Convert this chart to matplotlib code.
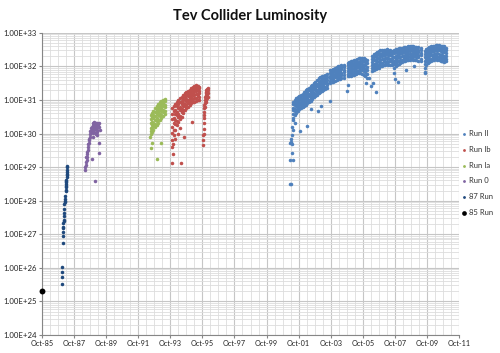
import numpy as np
import matplotlib
matplotlib.use("Agg")
import matplotlib.pyplot as plt
from matplotlib.ticker import FixedLocator, FuncFormatter, LogLocator, NullFormatter

plt.rcParams['font.family'] = ['Lato', 'DejaVu Sans']

# dates as decimal years, luminosity as log10 (cm^-2 s^-1)

# Run II: columns of readings (date, values in the dense band)
run2_dates = [2001.40, 2001.50, 2001.60, 2001.70, 2001.80, 2001.90, 2002.00, 2002.10,
              2002.20, 2002.30, 2002.40, 2002.50, 2002.60, 2002.70, 2002.80, 2002.90,
              2003.00, 2003.10, 2003.20, 2003.30, 2003.40, 2003.55,
              2003.72, 2003.82, 2003.92, 2004.02, 2004.12, 2004.22, 2004.32, 2004.42, 2004.55,
              2004.80, 2004.90, 2005.00, 2005.10, 2005.20, 2005.30, 2005.40, 2005.50,
              2005.60, 2005.70, 2005.80, 2005.90, 2006.02,
              2006.35, 2006.45, 2006.55, 2006.65, 2006.75, 2006.85, 2006.95, 2007.05,
              2007.15, 2007.25, 2007.35, 2007.45, 2007.57,
              2007.70, 2007.80, 2007.90, 2008.00, 2008.10, 2008.20, 2008.30, 2008.40,
              2008.50, 2008.60, 2008.70, 2008.80, 2008.90, 2009.00, 2009.10, 2009.20, 2009.35,
              2009.60, 2009.70, 2009.80, 2009.90, 2010.00, 2010.10, 2010.20, 2010.30,
              2010.40, 2010.50, 2010.60, 2010.70, 2010.80, 2010.92]
run2_logs = [
    [30.47, 30.57, 30.69, 30.76, 30.87, 30.95],
    [30.55, 30.66, 30.73, 30.84, 30.91, 31.00],
    [30.62, 30.70, 30.81, 30.87, 30.98, 31.05],
    [30.67, 30.77, 30.83, 30.93, 31.00, 31.10],
    [30.72, 30.79, 30.89, 30.95, 31.05, 31.12],
    [30.75, 30.84, 30.90, 31.00, 31.06, 31.15],
    [30.80, 30.87, 30.96, 31.02, 31.11, 31.18],
    [30.83, 30.92, 30.98, 31.08, 31.14, 31.24],
    [30.86, 30.93, 31.04, 31.10, 31.21, 31.29],
    [30.90, 30.99, 31.06, 31.16, 31.23, 31.33],
    [30.94, 31.01, 31.12, 31.18, 31.29, 31.37],
    [30.98, 31.07, 31.14, 31.24, 31.31, 31.41],
    [31.03, 31.10, 31.20, 31.26, 31.37, 31.46],
    [31.08, 31.16, 31.22, 31.32, 31.39, 31.50],
    [31.12, 31.19, 31.29, 31.35, 31.46, 31.55],
    [31.16, 31.25, 31.31, 31.41, 31.49, 31.60],
    [31.20, 31.27, 31.37, 31.44, 31.55, 31.64],
    [31.24, 31.33, 31.39, 31.50, 31.57, 31.68],
    [31.28, 31.35, 31.45, 31.51, 31.62, 31.70],
    [31.30, 31.39, 31.45, 31.56, 31.62, 31.72],
    [31.33, 31.40, 31.50, 31.56, 31.66, 31.74],
    [31.36, 31.44, 31.51, 31.60, 31.67, 31.76],
    [31.50, 31.57, 31.66, 31.72, 31.81, 31.88],
    [31.53, 31.62, 31.68, 31.77, 31.83, 31.90],
    [31.55, 31.63, 31.72, 31.78, 31.86, 31.92],
    [31.58, 31.67, 31.73, 31.82, 31.88, 31.96],
    [31.60, 31.68, 31.77, 31.83, 31.92, 31.98],
    [31.61, 31.71, 31.78, 31.88, 31.94, 32.01],
    [31.62, 31.70, 31.80, 31.87, 31.96, 32.02],
    [31.64, 31.74, 31.81, 31.91, 31.97, 32.04],
    [31.65, 31.73, 31.83, 31.90, 31.99, 32.05],
    [31.70, 31.78, 31.87, 31.94, 32.03, 32.10],
    [31.71, 31.81, 31.88, 31.98, 32.05, 32.12],
    [31.72, 31.80, 31.90, 31.97, 32.07, 32.15],
    [31.74, 31.84, 31.91, 32.01, 32.08, 32.16],
    [31.75, 31.83, 31.93, 32.00, 32.10, 32.18],
    [31.77, 31.87, 31.94, 32.04, 32.11, 32.20],
    [31.80, 31.87, 31.97, 32.04, 32.14, 32.22],
    [31.80, 31.90, 31.97, 32.07, 32.14, 32.24],
    [31.80, 31.88, 31.99, 32.06, 32.17, 32.25],
    [31.78, 31.89, 31.97, 32.08, 32.16, 32.25],
    [31.75, 31.85, 31.96, 32.05, 32.16, 32.25],
    [31.70, 31.83, 31.91, 32.04, 32.12, 32.23],
    [31.65, 31.77, 31.88, 31.98, 32.10, 32.20],
    [31.85, 31.95, 32.03, 32.13, 32.21, 32.30],
    [31.88, 31.99, 32.07, 32.18, 32.27, 32.37],
    [31.91, 32.00, 32.11, 32.20, 32.31, 32.40],
    [31.94, 32.05, 32.13, 32.25, 32.33, 32.44],
    [31.96, 32.05, 32.17, 32.25, 32.37, 32.45],
    [32.00, 32.10, 32.19, 32.30, 32.38, 32.48],
    [32.02, 32.11, 32.22, 32.30, 32.41, 32.49],
    [32.05, 32.15, 32.23, 32.34, 32.41, 32.50],
    [32.05, 32.13, 32.25, 32.33, 32.44, 32.50],
    [32.06, 32.16, 32.24, 32.36, 32.42, 32.51],
    [32.05, 32.13, 32.25, 32.33, 32.43, 32.50],
    [32.05, 32.15, 32.23, 32.34, 32.40, 32.49],
    [32.04, 32.12, 32.23, 32.30, 32.41, 32.47],
    [31.95, 32.07, 32.17, 32.29, 32.39, 32.50],
    [32.00, 32.10, 32.21, 32.31, 32.43, 32.52],
    [32.05, 32.15, 32.24, 32.35, 32.44, 32.53],
    [32.07, 32.16, 32.27, 32.36, 32.47, 32.55],
    [32.10, 32.20, 32.28, 32.39, 32.47, 32.55],
    [32.12, 32.20, 32.31, 32.40, 32.49, 32.56],
    [32.15, 32.24, 32.32, 32.43, 32.50, 32.57],
    [32.17, 32.24, 32.35, 32.42, 32.52, 32.58],
    [32.20, 32.28, 32.36, 32.45, 32.52, 32.58],
    [32.19, 32.29, 32.37, 32.47, 32.54, 32.60],
    [32.20, 32.27, 32.38, 32.46, 32.55, 32.60],
    [32.21, 32.30, 32.37, 32.48, 32.54, 32.61],
    [32.20, 32.28, 32.39, 32.46, 32.55, 32.60],
    [32.20, 32.30, 32.37, 32.47, 32.53, 32.59],
    [32.19, 32.27, 32.37, 32.44, 32.53, 32.58],
    [32.17, 32.27, 32.34, 32.44, 32.50, 32.57],
    [32.15, 32.23, 32.33, 32.40, 32.49, 32.55],
    [31.95, 32.07, 32.16, 32.28, 32.36, 32.45],
    [32.05, 32.15, 32.23, 32.34, 32.42, 32.52],
    [32.10, 32.18, 32.29, 32.37, 32.47, 32.55],
    [32.12, 32.22, 32.30, 32.41, 32.49, 32.58],
    [32.15, 32.23, 32.34, 32.42, 32.52, 32.60],
    [32.18, 32.27, 32.35, 32.46, 32.53, 32.61],
    [32.20, 32.28, 32.38, 32.46, 32.56, 32.62],
    [32.21, 32.31, 32.38, 32.49, 32.56, 32.63],
    [32.20, 32.29, 32.40, 32.48, 32.58, 32.64],
    [32.19, 32.29, 32.37, 32.48, 32.55, 32.63],
    [32.15, 32.25, 32.34, 32.45, 32.53, 32.62],
    [32.16, 32.24, 32.35, 32.43, 32.53, 32.61],
    [32.15, 32.25, 32.32, 32.43, 32.51, 32.60],
    [32.15, 32.22, 32.32, 32.40, 32.48, 32.55],
]
run2_out_dates = [2001.20, 2001.30, 2001.20, 2001.40, 2001.33, 2001.20, 2001.28, 2001.34,
                  2001.35, 2001.36, 2001.40, 2001.38, 2001.30, 2001.85, 2002.26, 2002.95,
                  2003.16, 2003.70, 2004.75, 2006.25, 2006.40, 2006.55, 2006.15, 2007.70,
                  2007.75, 2007.95, 2008.45, 2009.60, 2010.70, 2010.80, 2004.80, 2005.95,
                  2002.50, 2001.50, 2009.65, 2008.95]
run2_out_logs = [28.50, 28.50, 29.20, 29.20, 29.42, 29.72, 29.74, 29.70,
                 29.96, 30.20, 30.40, 30.10, 29.85, 30.09, 30.23, 30.68,
                 30.83, 30.97, 31.27, 31.42, 31.50, 31.25, 31.65, 31.80,
                 31.62, 31.55, 31.90, 31.83, 32.15, 32.12, 31.45, 31.50,
                 30.72, 30.30, 31.80, 32.00]

# Run Ib
run1b_dates = [1993.85, 1993.95, 1994.05, 1994.15, 1994.25, 1994.35, 1994.45, 1994.55,
               1994.65, 1994.75, 1994.85, 1994.95, 1995.05, 1995.15, 1995.25, 1995.35,
               1995.45, 1995.53,
               1995.78, 1995.82, 1995.86, 1995.90, 1995.95, 1996.00, 1996.05, 1996.10]
run1b_logs = [
    [29.80, 30.02, 30.19, 30.42, 30.58, 30.76],
    [29.95, 30.10, 30.31, 30.46, 30.66, 30.82],
    [30.10, 30.27, 30.39, 30.57, 30.71, 30.88],
    [30.25, 30.36, 30.54, 30.65, 30.81, 30.94],
    [30.35, 30.50, 30.59, 30.76, 30.87, 31.00],
    [30.42, 30.53, 30.70, 30.79, 30.94, 31.05],
    [30.50, 30.64, 30.73, 30.88, 30.97, 31.10],
    [30.60, 30.69, 30.82, 30.91, 31.04, 31.15],
    [30.70, 30.81, 30.89, 31.01, 31.09, 31.20],
    [30.75, 30.84, 30.96, 31.04, 31.16, 31.24],
    [30.80, 30.91, 30.99, 31.11, 31.19, 31.27],
    [30.85, 30.94, 31.06, 31.13, 31.24, 31.30],
    [30.90, 31.01, 31.09, 31.19, 31.26, 31.35],
    [30.95, 31.04, 31.15, 31.21, 31.32, 31.39],
    [30.95, 31.07, 31.15, 31.26, 31.33, 31.42],
    [30.98, 31.07, 31.19, 31.26, 31.37, 31.44],
    [31.00, 31.11, 31.19, 31.29, 31.35, 31.43],
    [31.00, 31.09, 31.20, 31.26, 31.35, 31.40],
    [29.66, 29.80, 29.95],
    [30.00, 30.15, 30.30, 30.45],
    [30.55, 30.65, 30.75, 30.85],
    [30.80, 30.90, 31.00, 31.10],
    [30.95, 31.05, 31.15, 31.25],
    [31.00, 31.10, 31.20, 31.30],
    [31.05, 31.15, 31.25, 31.33],
    [31.10, 31.20, 31.30, 31.35],
]
run1b_out_dates = [1993.90, 1993.85, 1994.40, 1994.60, 1995.10, 1994.35, 1993.88, 1993.92,
                   1994.05, 1994.20]
run1b_out_logs = [29.40, 29.12, 29.12, 29.90, 30.34, 30.16, 29.60, 29.70, 29.85, 30.00]

# Run Ia
run1a_dates = [1992.52, 1992.60, 1992.70, 1992.80, 1992.90, 1993.00, 1993.10, 1993.20,
               1993.30, 1993.40]
run1a_logs = [
    [30.00, 30.09, 30.17, 30.31, 30.44, 30.55],
    [30.05, 30.14, 30.26, 30.35, 30.49, 30.60],
    [30.12, 30.23, 30.31, 30.45, 30.55, 30.68],
    [30.20, 30.29, 30.41, 30.51, 30.65, 30.76],
    [30.26, 30.37, 30.46, 30.59, 30.69, 30.82],
    [30.32, 30.41, 30.54, 30.63, 30.77, 30.88],
    [30.40, 30.51, 30.59, 30.71, 30.81, 30.94],
    [30.46, 30.55, 30.67, 30.75, 30.88, 30.98],
    [30.52, 30.63, 30.71, 30.83, 30.91, 31.00],
    [30.58, 30.67, 30.79, 30.86, 30.96, 31.02],
]
run1a_out_dates = [1992.60, 1992.55, 1993.20, 1992.95, 1992.50]
run1a_out_logs = [29.73, 29.56, 29.71, 29.24, 29.90]

# Run 0
run0_dates = [1988.43, 1988.45, 1988.49, 1988.52, 1988.53, 1988.56, 1988.58, 1988.60,
              1988.63, 1988.66, 1988.68, 1988.72, 1988.74, 1988.77, 1988.80, 1988.85,
              1988.90, 1988.95, 1989.00, 1989.05, 1989.10, 1989.15, 1989.20, 1989.30,
              1989.35, 1988.80, 1988.85, 1988.90, 1988.95, 1989.00, 1989.05, 1989.10,
              1989.15, 1989.20, 1989.25, 1989.30, 1988.90, 1989.00, 1989.10, 1989.20,
              1988.70, 1988.62, 1988.56, 1988.50, 1989.33, 1989.33, 1988.86, 1989.05,
              1988.95, 1989.15]
run0_logs = [28.92, 29.00, 29.07, 29.15, 29.22, 29.30, 29.40, 29.51,
             29.60, 29.71, 29.80, 29.91, 30.00, 30.08, 30.16, 30.20,
             30.26, 30.30, 30.33, 30.26, 30.30, 30.28, 30.31, 30.20,
             30.11, 30.05, 30.10, 30.15, 30.18, 30.20, 30.15, 30.18,
             30.10, 30.20, 30.25, 30.30, 30.02, 30.05, 30.00, 30.05,
             29.85, 29.68, 29.45, 29.30, 29.73, 29.42, 29.24, 28.60,
             29.90, 29.95]

# 1987 run
run87_dates = [1987.00, 1987.00, 1987.00, 1987.00, 1987.03, 1987.05, 1987.06, 1987.07,
               1987.08, 1987.10, 1987.12, 1987.12, 1987.14, 1987.15, 1987.17, 1987.18,
               1987.20, 1987.22, 1987.24, 1987.25, 1987.26, 1987.27, 1987.28, 1987.29,
               1987.30, 1987.31, 1987.32, 1987.33, 1987.22, 1987.24, 1987.27, 1987.30,
               1987.16, 1987.10, 1987.06]
run87_logs = [25.52, 25.74, 25.89, 26.02, 26.73, 26.95, 27.08, 27.23,
              27.33, 27.43, 27.53, 27.63, 27.75, 27.90, 28.00, 28.05,
              28.15, 28.32, 28.40, 28.50, 28.55, 28.62, 28.70, 28.78,
              28.85, 28.92, 29.00, 29.04, 28.28, 28.45, 28.60, 28.80,
              27.97, 27.40, 27.20]

# 1985 run
run85_dates = [1985.75]
run85_logs = [25.32]

tick_years = [1985, 1987, 1989, 1991, 1993, 1995, 1997, 1999, 2001, 2003, 2005, 2007, 2009, 2011]


def flatten(dates, logs):
    xs, ys = [], []
    for d, col in zip(dates, logs):
        for v in col:
            xs.append(d)
            ys.append(10.0 ** v)
    return xs, ys


fig = plt.figure(figsize=(5.0, 3.53), dpi=100)
ax = fig.add_axes([0.084, 0.051, 0.834, 0.856])

c_run2 = '#4F81BD'
c_run1b = '#C0504D'
c_run1a = '#9BBB59'
c_run0 = '#8064A2'
c_run87 = '#1F497D'

s = 6.5
x, y = flatten(run2_dates, run2_logs)
h2 = ax.scatter(x + run2_out_dates, y + [10.0 ** v for v in run2_out_logs],
                s=s, c=c_run2, linewidths=0, zorder=3)
x, y = flatten(run1b_dates, run1b_logs)
h1b = ax.scatter(x + run1b_out_dates, y + [10.0 ** v for v in run1b_out_logs],
                 s=s, c=c_run1b, linewidths=0, zorder=3)
x, y = flatten(run1a_dates, run1a_logs)
h1a = ax.scatter(x + run1a_out_dates, y + [10.0 ** v for v in run1a_out_logs],
                 s=s, c=c_run1a, linewidths=0, zorder=3)
h0 = ax.scatter(run0_dates, [10.0 ** v for v in run0_logs], s=s, c=c_run0, linewidths=0, zorder=3)
h87 = ax.scatter(run87_dates, [10.0 ** v for v in run87_logs], s=s, c=c_run87, linewidths=0, zorder=3)
h85 = ax.scatter(run85_dates, [10.0 ** v for v in run85_logs], s=18, c='black', linewidths=0,
                 zorder=4, clip_on=False)

ax.set_yscale('log')
ax.set_ylim(1e24, 1e33)
ax.set_xlim(1985.75, 2011.75)

major_x = [yr + 0.75 for yr in tick_years]
ax.xaxis.set_major_locator(FixedLocator(major_x))
ax.xaxis.set_minor_locator(FixedLocator(np.arange(1985.75, 2011.76, 0.5)))
ax.xaxis.set_major_formatter(FuncFormatter(lambda v, p: 'Oct-%02d' % (int(round(v - 0.75)) % 100)))

ax.yaxis.set_major_locator(LogLocator(base=10, numticks=20))
ax.yaxis.set_minor_locator(LogLocator(base=10, subs=np.arange(2, 10), numticks=20))
ax.yaxis.set_minor_formatter(NullFormatter())
ax.yaxis.set_major_formatter(FuncFormatter(lambda v, p: '1.00E+%d' % int(round(np.log10(v)))))

ax.grid(True, which='major', color='#C6C6C6', linewidth=0.8, zorder=0)
ax.grid(True, which='minor', color='#DDDDDD', linewidth=0.6, zorder=0)
ax.set_axisbelow(True)

for side in ['top', 'right']:
    ax.spines[side].set_visible(False)
ax.spines['left'].set_color('#868686')
ax.spines['bottom'].set_color('#868686')
ax.spines['left'].set_linewidth(0.8)
ax.spines['bottom'].set_linewidth(0.8)

ax.tick_params(axis='both', which='major', labelsize=5.2, colors='#868686', labelcolor='#222222',
               length=2.5, width=0.8)
ax.tick_params(axis='both', which='minor', length=0)
ax.tick_params(axis='x', pad=1.0)
ax.tick_params(axis='y', pad=1.0)
for lab in ax.get_yticklabels():
    lab.set_family(['Liberation Sans Narrow', 'Lato'])
    lab.set_fontsize(5.6)

fig.text(0.5, 0.955, 'Tev Collider Luminosity', ha='center', va='center',
         fontsize=10.5, fontweight='bold', color='#111111')

handles = [h2, h1b, h1a, h0, h87, h85]
labels = ['Run II', 'Run Ib', 'Run Ia', 'Run 0', '87 Run', '85 Run']
leg = fig.legend(handles, labels, loc='upper left', bbox_to_anchor=(0.915, 0.64),
                 frameon=False, fontsize=5.5, labelspacing=1.15, handletextpad=0.1,
                 handlelength=1.0, markerscale=0.8, borderaxespad=0)
for t in leg.get_texts():
    t.set_color('#333333')

fig.savefig('out.png', dpi=100)
